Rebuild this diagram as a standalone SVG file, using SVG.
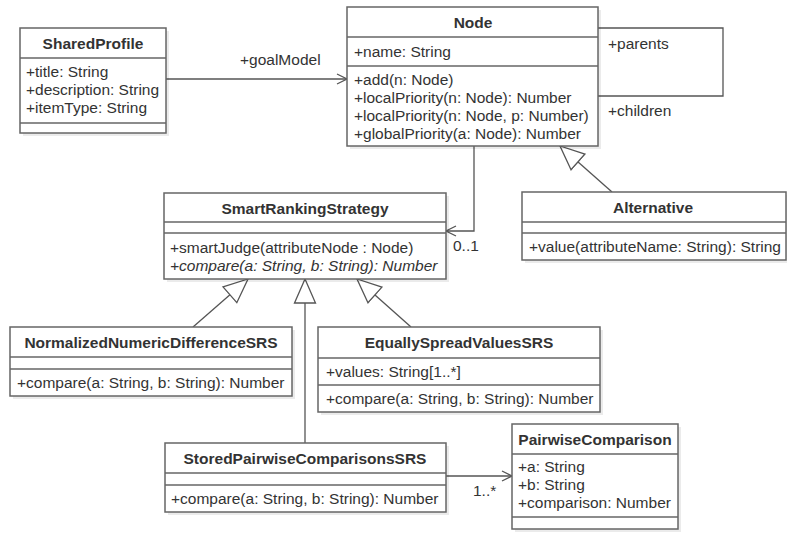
<svg xmlns="http://www.w3.org/2000/svg" width="788" height="533" viewBox="0 0 788 533">
<style>
text{font-family:"Liberation Sans",Arial,sans-serif;font-size:15.5px;fill:#333}
.t{font-weight:bold;text-anchor:middle}
.i{font-style:italic}
.box{fill:#fff;stroke:#666;stroke-width:1.5}
.sh{fill:#000;opacity:.08}
.sep{stroke:#666;stroke-width:1.5}
.c{fill:none;stroke:#555;stroke-width:1.3}
</style>
<defs>
<marker id="open" viewBox="0 0 12 12" refX="11" refY="6" markerWidth="12" markerHeight="12" markerUnits="userSpaceOnUse" orient="auto">
<path d="M1,1 L11,6 L1,11" fill="none" stroke="#555" stroke-width="1.3"/>
</marker>
<marker id="gen" viewBox="0 0 26 24" refX="25" refY="12" markerWidth="26" markerHeight="24" markerUnits="userSpaceOnUse" orient="auto">
<path d="M1,1.5 L25,12 L1,22.5 Z" fill="#fff" stroke="#555" stroke-width="1.3"/>
</marker>
</defs>
<rect width="788" height="533" fill="#fff"/>
<g id="connectors">
<path class="c" d="M166,79 L347,79" marker-end="url(#open)"/>
<text x="240" y="65">+goalModel</text>
<path class="c" d="M598,28 L723,28 L723,96 L598,96"/>
<text x="608" y="49">+parents</text>
<text x="608" y="116">+children</text>
<path class="c" d="M474,146 L474,231 L446,231" marker-end="url(#open)"/>
<text x="453" y="251">0..1</text>
<path class="c" d="M612,192 L560,146" marker-end="url(#gen)"/>
<path class="c" d="M193,327 L248,279" marker-end="url(#gen)"/>
<path class="c" d="M305,443 L305,279" marker-end="url(#gen)"/>
<path class="c" d="M411,327 L357,279" marker-end="url(#gen)"/>
<path class="c" d="M446,476 L512,476" marker-end="url(#open)"/>
<text x="473" y="496">1..*</text>
</g>
<g id="SharedProfile">
<rect class="sh" x="23" y="31" width="146" height="105"/>
<rect class="box" x="20" y="28" width="146" height="105"/>
<line class="sep" x1="20" y1="58" x2="166" y2="58"/>
<line class="sep" x1="20" y1="123" x2="166" y2="123"/>
<text class="t" x="93" y="49">SharedProfile</text>
<text x="26" y="77">+title: String</text>
<text x="26" y="95">+description: String</text>
<text x="26" y="113">+itemType: String</text>
</g>
<g id="Node">
<rect class="sh" x="350" y="10" width="251" height="139"/>
<rect class="box" x="347" y="7" width="251" height="139"/>
<line class="sep" x1="347" y1="37" x2="598" y2="37"/>
<line class="sep" x1="347" y1="66" x2="598" y2="66"/>
<text class="t" x="473" y="28">Node</text>
<text x="354" y="57">+name: String</text>
<text x="354" y="85">+add(n: Node)</text>
<text x="354" y="103">+localPriority(n: Node): Number</text>
<text x="354" y="121">+localPriority(n: Node, p: Number)</text>
<text x="354" y="139">+globalPriority(a: Node): Number</text>
</g>
<g id="Alternative">
<rect class="sh" x="525" y="195" width="262" height="68"/>
<rect class="box" x="522" y="192" width="264" height="68"/>
<line class="sep" x1="522" y1="222" x2="786" y2="222"/>
<line class="sep" x1="522" y1="233" x2="786" y2="233"/>
<text class="t" x="653" y="213">Alternative</text>
<text x="529" y="252">+value(attributeName: String): String</text>
</g>
<g id="SmartRankingStrategy">
<rect class="sh" x="167" y="196" width="282" height="86"/>
<rect class="box" x="164" y="193" width="282" height="86"/>
<line class="sep" x1="164" y1="222" x2="446" y2="222"/>
<line class="sep" x1="164" y1="233" x2="446" y2="233"/>
<text class="t" x="305" y="214">SmartRankingStrategy</text>
<text x="170" y="253">+smartJudge(attributeNode : Node)</text>
<text class="i" x="170" y="271">+compare(a: String, b: String): Number</text>
</g>
<g id="NormalizedNumericDifferenceSRS">
<rect class="sh" x="13" y="330" width="282" height="69"/>
<rect class="box" x="10" y="327" width="282" height="69"/>
<line class="sep" x1="10" y1="357" x2="292" y2="357"/>
<line class="sep" x1="10" y1="369" x2="292" y2="369"/>
<text class="t" x="151" y="348">NormalizedNumericDifferenceSRS</text>
<text x="17" y="388">+compare(a: String, b: String): Number</text>
</g>
<g id="EquallySpreadValuesSRS">
<rect class="sh" x="321" y="330" width="282" height="85"/>
<rect class="box" x="318" y="327" width="282" height="85"/>
<line class="sep" x1="318" y1="358" x2="600" y2="358"/>
<line class="sep" x1="318" y1="385" x2="600" y2="385"/>
<text class="t" x="459" y="348">EquallySpreadValuesSRS</text>
<text x="326" y="377">+values: String[1..*]</text>
<text x="326" y="404">+compare(a: String, b: String): Number</text>
</g>
<g id="StoredPairwiseComparisonsSRS">
<rect class="sh" x="168" y="446" width="281" height="69"/>
<rect class="box" x="165" y="443" width="281" height="69"/>
<line class="sep" x1="165" y1="473" x2="446" y2="473"/>
<line class="sep" x1="165" y1="485" x2="446" y2="485"/>
<text class="t" x="305" y="464">StoredPairwiseComparisonsSRS</text>
<text x="171" y="504">+compare(a: String, b: String): Number</text>
</g>
<g id="PairwiseComparison">
<rect class="sh" x="515" y="427" width="166" height="105"/>
<rect class="box" x="512" y="424" width="166" height="105"/>
<line class="sep" x1="512" y1="454" x2="678" y2="454"/>
<line class="sep" x1="512" y1="517" x2="678" y2="517"/>
<text class="t" x="595" y="445">PairwiseComparison</text>
<text x="518" y="472">+a: String</text>
<text x="518" y="490">+b: String</text>
<text x="518" y="508">+comparison: Number</text>
</g>
</svg>
